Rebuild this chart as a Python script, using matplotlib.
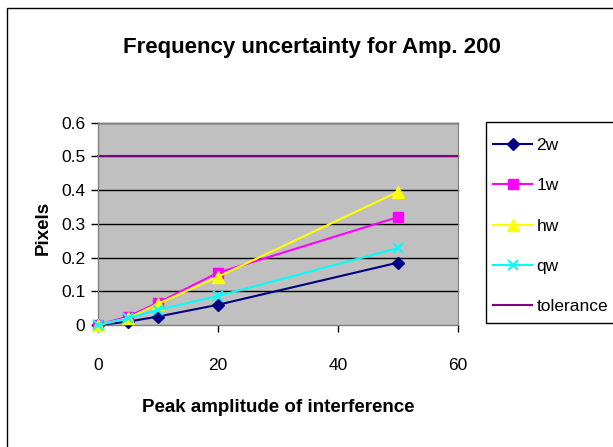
import matplotlib
matplotlib.use("Agg")
import matplotlib.pyplot as plt
from matplotlib.patches import Rectangle

plt.rcParams['font.family'] = ['Liberation Sans', 'DejaVu Sans']

x_vals = [0, 5, 10, 20, 50]
s_2w = [0.0, 0.01, 0.025, 0.06, 0.185]
s_1w = [0.0, 0.025, 0.066, 0.155, 0.32]
s_hw = [0.0, 0.02, 0.063, 0.143, 0.395]
s_qw = [0.0, 0.02, 0.045, 0.086, 0.228]
tolerance = 0.5
title = "Frequency uncertainty for Amp. 200"
xlabel = "Peak amplitude of interference"
ylabel = "Pixels"
xticks = [0, 20, 40, 60]
yticks = [0, 0.1, 0.2, 0.3, 0.4, 0.5, 0.6]
ytick_labels = ["0", "0.1", "0.2", "0.3", "0.4", "0.5", "0.6"]

fig = plt.figure(figsize=(6.13, 4.47), dpi=100)
W, H = 613, 447
# outer chart border
fig.patches.append(Rectangle((7 / W, -0.1), 1.2, (H - 8) / H + 0.1, transform=fig.transFigure,
                             fill=False, edgecolor='black', linewidth=1.0))
# legend frame
fig.patches.append(Rectangle((486 / W, 1 - 323 / H), 0.5, (323 - 122) / H, transform=fig.transFigure,
                             fill=False, edgecolor='black', linewidth=1.0))

ax = fig.add_axes([98 / W, 1 - 325 / H, 360 / W, (325 - 122.7) / H])
ax.set_facecolor('#C0C0C0')
ax.set_xlim(0, 60)
ax.set_ylim(0, 0.6)
for y in yticks[1:]:
    ax.axhline(y, color='black', linewidth=1.0, zorder=1)
for s in ['top', 'right']:
    ax.spines[s].set_color('#808080')
for s in ['left', 'bottom']:
    ax.spines[s].set_color('#808080')
    ax.spines[s].set_linewidth(1.0)

ax.plot(x_vals, s_2w, color='#000080', marker='D', markersize=6.5, linewidth=1.5, label='2w', zorder=3)
ax.plot(x_vals, s_1w, color='#FF00FF', marker='s', markersize=6.5, linewidth=1.5, label='1w', zorder=3)
ax.plot(x_vals, s_hw, color='#FFFF00', marker='^', markersize=8, linewidth=1.5, label='hw', zorder=3)
ax.plot(x_vals, s_qw, color='#00FFFF', marker='x', markersize=7.5, markeredgewidth=1.5, linewidth=1.5, label='qw', zorder=3)
ax.axhline(tolerance, color='#800080', linewidth=1.5, label='tolerance', zorder=2)
for l in ax.lines:
    l.set_clip_on(False)

ax.set_xticks(xticks)
ax.set_yticks(yticks)
ax.set_yticklabels(ytick_labels)
ax.tick_params(axis='both', direction='out', length=5, width=1, color='black', labelsize=12.5, pad=4)
ax.tick_params(axis='x', pad=19)

fig.text(312 / W, 1 - 47 / H, title, ha='center', va='center', fontsize=16, fontweight='bold')
fig.text(278 / W, 1 - 407 / H, xlabel, ha='center', va='center', fontsize=13.5, fontweight='bold')
fig.text(43 / W, 1 - 228 / H, ylabel, ha='center', va='center', fontsize=13.5, fontweight='bold', rotation=90)

leg = ax.legend(loc='upper left', bbox_to_anchor=(493 / W, 1 - 138 / H), bbox_transform=fig.transFigure,
                frameon=False, fontsize=12.5, handlelength=2.25,
                labelspacing=1.45, borderpad=0, handletextpad=0.25, borderaxespad=0)

fig.savefig('out.png', dpi=100)
